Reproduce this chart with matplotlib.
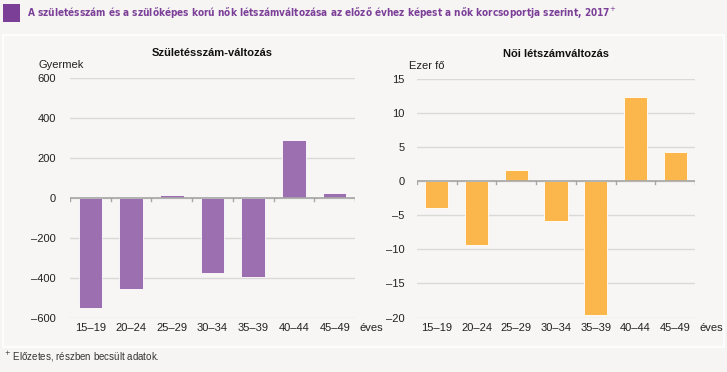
import matplotlib.pyplot as plt
import numpy as np

# Korcsoportok
categories = ['15–19', '20–24', '25–29', '30–34', '35–39', '40–44', '45–49']
# Születésszám-változás (gyermek)
births_change = [-550, -457, 13, -375, -398, 287, 22]
# Női létszámváltozás (ezer fő)
women_change = [-3.9, -9.3, 1.6, -5.9, -19.7, 12.4, 4.3]

left_ticks = [-600, -400, -200, 0, 200, 400, 600]
right_ticks = [-20, -15, -10, -5, 0, 5, 10, 15]

plt.rcParams['font.family'] = ['Liberation Sans', 'DejaVu Sans']
plt.rcParams['axes.unicode_minus'] = False

bg = '#f6f5f3'
fig = plt.figure(figsize=(7.27, 3.72), dpi=100, facecolor=bg)

# Háttér-panel (külön tengely, hogy a diagramok alatt legyen)
bg_ax = fig.add_axes([0, 0, 1, 1], zorder=-10)
bg_ax.set_xlim(0, 727)
bg_ax.set_ylim(372, 0)
bg_ax.axis('off')
bg_ax.add_patch(plt.Rectangle((3, 35), 721, 312, facecolor='#f7f6f4', edgecolor='#ffffff', linewidth=1.2))
bg_ax.add_patch(plt.Rectangle((3, 4), 17, 18, facecolor='#7b3f98', edgecolor='none'))

# Cím
fig.text(27 / 727, 1 - 13.5 / 372,
         'A születésszám és a szülőképes korú nők létszámváltozása az előző évhez képest a nők korcsoportja szerint, 2017$^{+}$',
         fontsize=7.2, fontweight='bold', color='#7b3f98', va='center', ha='left',
         fontstretch='condensed', family=['DejaVu Sans'])

fig.text(4 / 727, 1 - 357 / 372, '$^{+}$ Előzetes, részben becsült adatok.', fontsize=7,
         color='#333333', va='center', ha='left')


def draw_panel(rect, values, ticks, color, title, unit, pad, unit_x):
    ax = fig.add_axes(rect)
    ax.set_facecolor('none')
    x = np.arange(len(categories))
    ax.bar(x, values, width=0.58, color=color, edgecolor='white', linewidth=0.6, zorder=3)
    ax.set_xlim(-0.5, len(categories) - 0.5)
    ax.set_ylim(ticks[0], ticks[-1])
    ax.set_yticks(ticks)
    ax.set_yticklabels([str(t).replace('-', '–') for t in ticks], fontsize=8, color='#222222')
    ax.grid(axis='y', color='#d9d9d9', linewidth=1.0, zorder=0)
    for s in ax.spines.values():
        s.set_visible(False)
    ax.tick_params(axis='y', length=0, pad=pad)
    ax.tick_params(axis='x', length=0)
    ax.set_xticks(x)
    ax.set_xticklabels([])
    # Nulla-vonal és osztásjelek
    ax.axhline(0, color='#a6a6a6', linewidth=1.2, zorder=4)
    span = ticks[-1] - ticks[0]
    for b in np.arange(-0.5, len(categories), 1.0):
        ax.plot([b, b], [0, -span * 0.012], color='#a6a6a6', linewidth=1.0, zorder=4)
    # Kategóriacímkék a tengely alatt
    for xi, lab in zip(x, categories):
        ax.text(xi, -0.045, lab, transform=ax.get_xaxis_transform(), ha='center', va='center',
                fontsize=8, color='#222222')
    ax.text(len(categories) - 0.5 + 0.12, -0.045, 'éves', transform=ax.get_xaxis_transform(),
            ha='left', va='center', fontsize=8, color='#222222')
    ax.text(0.5, 1.105, title, transform=ax.transAxes, ha='center', va='center',
            fontsize=8, fontweight='bold', color='#111111')
    ax.text(unit_x, 1.055, unit, transform=ax.transAxes, ha='left', va='center',
            fontsize=8, color='#222222')
    return ax


ax1 = draw_panel([70 / 727, 1 - 317.5 / 372, 285 / 727, 239.5 / 372],
                 births_change, left_ticks, '#9b6fb0', 'Születésszám-változás', 'Gyermek', 10, -0.112)
ax2 = draw_panel([417 / 727, 1 - 317.5 / 372, 278 / 727, 238.5 / 372],
                 women_change, right_ticks, '#fbb64c', 'Női létszámváltozás', 'Ezer fő', 9, -0.03)

fig.savefig('out.png', dpi=100, facecolor=bg)
